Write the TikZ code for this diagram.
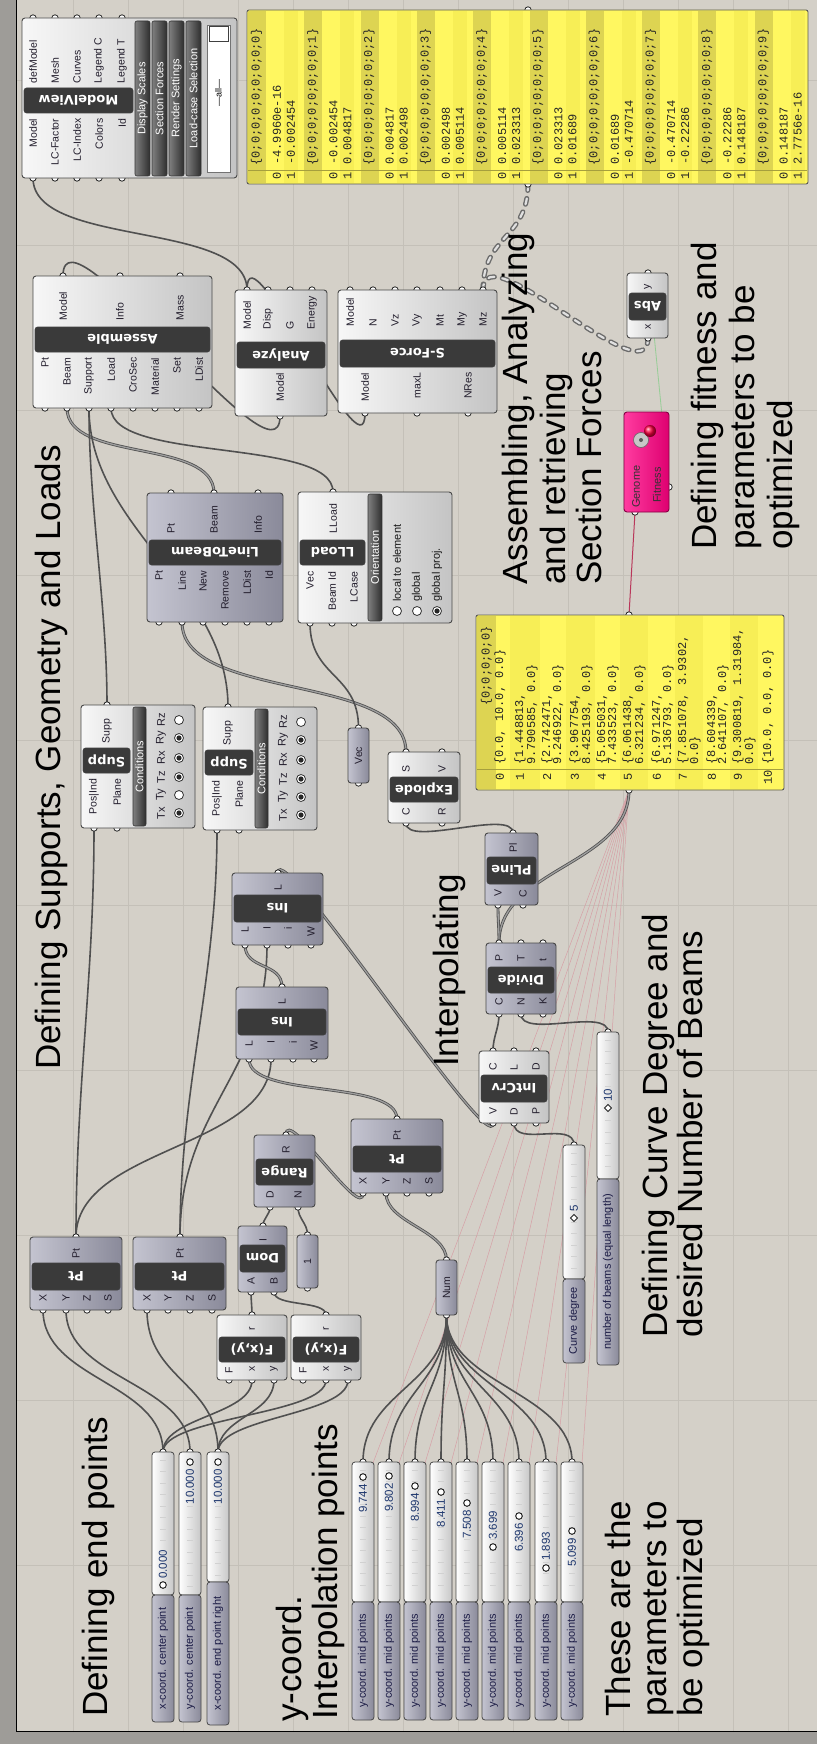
\documentclass[tikz,border=0pt]{standalone}
\usepackage{fontspec}
\setmainfont{Liberation Sans}
\newfontfamily\monofont{Liberation Mono}
\newfontfamily\barfont{DejaVu Sans}
\pgfdeclarelayer{canvas}
\pgfdeclarelayer{wires}
\pgfdeclarelayer{grips}
\pgfsetlayers{canvas,wires,grips,main}

\definecolor{canvasbg}{RGB}{212,208,200}
\definecolor{gridln}{RGB}{196,192,184}
\definecolor{rimc}{RGB}{158,156,152}
\definecolor{wirec}{RGB}{80,80,80}
\definecolor{boxhi}{RGB}{247,247,247}
\definecolor{boxlo}{RGB}{196,196,196}
\definecolor{bluehi}{RGB}{196,196,208}
\definecolor{bluelo}{RGB}{138,138,154}
\definecolor{barc}{RGB}{58,58,58}
\definecolor{edgec}{RGB}{72,72,72}
\definecolor{labelc}{RGB}{35,30,45}
\definecolor{panely}{RGB}{255,247,96}
\definecolor{panelalt}{RGB}{247,238,86}
\definecolor{panelh}{RGB}{221,212,82}
\definecolor{galhi}{RGB}{255,60,160}
\definecolor{gallo}{RGB}{222,0,112}
\definecolor{valc}{RGB}{30,55,110}
\definecolor{slabel}{RGB}{28,28,70}
\definecolor{genomec}{RGB}{214,160,166}
\definecolor{gallink}{RGB}{185,55,90}
\definecolor{fitc}{RGB}{150,205,150}

\tikzset{
  lightbox/.style={draw=edgec, line width=0.9pt, rounded corners=3pt, left color=boxhi, right color=boxlo},
  bluebox/.style={draw=edgec, line width=0.9pt, rounded corners=3pt, left color=bluehi, right color=bluelo},
  namebar/.style={draw=black!75, line width=0.6pt, rounded corners=2.5pt, fill=barc},
  nametext/.style={text=white, font=\barfont\bfseries\fontsize{13}{13}\selectfont, rotate=180, inner sep=0pt},
  plabel/.style={rotate=90, text=labelc, font=\fontsize{10.5}{11}\selectfont, inner sep=0.5pt},
  grip/.style={fill=white, draw=black!85, line width=0.8pt},
  wire/.style={draw=wirec, line width=1.6pt},
  listwire/.style={draw=wirec, line width=0.8pt, double=black!38, double distance=1.3pt},
  treeout/.style={draw=black!58, line width=5pt, line cap=round, dash pattern=on 6pt off 8pt},
  treein/.style={draw=black!12, line width=2.2pt, line cap=round, dash pattern=on 6pt off 8pt},
  btn/.style={draw=black!80, line width=0.6pt, rounded corners=2pt, left color=black!50, right color=black!82},
  btntext/.style={rotate=90, text=white, font=\fontsize{11}{11}\selectfont, inner sep=0pt},
  monot/.style={rotate=90, text=black!85, font=\monofont\fontsize{12}{12}\selectfont, inner sep=0pt},
  sliderbody/.style={draw=edgec, line width=0.8pt, rounded corners=3pt, left color=white, right color=black!22},
  sliderlabel/.style={draw=edgec, line width=0.8pt, rounded corners=3pt, left color=bluehi, right color=bluelo},
  sltick/.style={draw=black!18, line width=0.5pt},
  sltext/.style={rotate=90, text=slabel, font=\fontsize{11}{11}\selectfont, inner sep=0pt},
  valtext/.style={rotate=90, text=valc, font=\fontsize{11.5}{11.5}\selectfont, inner sep=0pt},
  bigtitle/.style={rotate=90, anchor=base west, text=black, font=\fontsize{35}{35}\selectfont, inner sep=0pt},
  optext/.style={rotate=90, anchor=west, text=black!90, font=\fontsize{11}{11}\selectfont, inner sep=0pt},
}

% component body, name bar, grips with labels
\newcommand{\ghbox}[5]{\draw[#1] (#2,#3) rectangle (#4,#5);}
\newcommand{\ghbar}[5]{\draw[namebar] (#1,#2) rectangle (#3,#4);
  \path (#1,#2) -- (#3,#4) node[midway,nametext] {#5};}
\newcommand{\ghbtn}[5]{\draw[btn] (#1,#2) rectangle (#3,#4);
  \path (#1,#2) -- (#3,#4) node[midway,btntext] {#5};}
\newcommand{\ghook}[3]{\coordinate (#1) at (#2,#3);
  \begin{pgfonlayer}{grips}\draw[grip] (#2,#3) circle[radius=3.2];\end{pgfonlayer}}
\newcommand{\ghin}[5]{\ghook{#1}{#2}{#3}\node[plabel,anchor=east] (#1-t) at (#2,#4) {#5};}
\newcommand{\ghout}[5]{\ghook{#1}{#2}{#3}\node[plabel,anchor=west] (#1-t) at (#2,#4) {#5};}
% wires leave an output upwards and enter an input from below
\newcommand{\ghwire}[4][wire]{\draw[#1] (#2) .. controls +(0,-#4) and +(0,#4) .. (#3);}
\newcommand{\ghtree}[3]{\draw[treeout] (#1) .. controls +(0,-#3) and +(0,#3) .. (#2);
  \draw[treein] (#1) .. controls +(0,-#3) and +(0,#3) .. (#2);}
\newcommand{\ghcheck}[3]{\draw[fill=white, draw=black!80, line width=0.8pt] (#1,#2) circle[radius=4.5];
  \ifnum#3=1 \fill[black!85] (#1,#2) circle[radius=2.6];\fi}
% number slider: name, left x, top, split, bottom, label
\newcommand{\ghslider}[6]{%
  \draw[sliderbody] (#2,#3) rectangle ({#2+22},#4);
  \pgfmathtruncatemacro\ntick{(#4-#3-14)/11.5}
  \foreach \k in {0,...,\ntick}{\draw[sltick] ({#2+8},{#3+8+\k*11.5}) -- ++(6,0);}
  \draw[sliderlabel] (#2,#4) rectangle ({#2+22},#5);
  \node[sltext] (#1-t) at ({#2+11},{(#4+#5)/2}) {#6};
  \ghook{#1}{{#2+11}}{#3}
  \coordinate (#1-c) at ({#2+21},{#3+1});}
% slider value: left x, marker y, text, anchor, text y, marker kind
\newcommand{\ghval}[6]{%
  \node[valtext, anchor=#4] at ({#1+11},#5) {#3};
  \ifnum#6=0 \draw[fill=white, draw=black!85, line width=1pt] ({#1+11},#2) circle[radius=3.3];
  \else \draw[fill=white, draw=black!85, line width=0.9pt] ({#1+11},{#2-3.5}) -- ({#1+14.5},#2) -- ({#1+11},{#2+3.5}) -- ({#1+7.5},#2) -- cycle;\fi}
% one branch of the upper panel: index, path, two values
\newcommand{\ghgroup}[4]{%
  \pgfmathsetmacro\gx{247+56.3*#1}
  \fill[panelh] (\gx+1,11) rectangle ({\gx+19},183);
  \fill[panelalt] ({\gx+37},11) rectangle ({\gx+51},183);
  \node[monot] at ({\gx+9.5},97) {#2};
  \node[monot] at ({\gx+30},176) {0};
  \node[monot, anchor=west] at ({\gx+30},165) {#3};
  \node[monot] at ({\gx+44},176) {1};
  \node[monot, anchor=west] at ({\gx+44},165) {#4};}

\begin{document}
\begin{tikzpicture}[x=1pt,y=-1pt]
\useasboundingbox (0,0) rectangle (817,1744);

% ---------- canvas ----------
\begin{pgfonlayer}{canvas}
  \fill[canvasbg] (0,0) rectangle (817,1744);
  \foreach \gxv in {73,128,...,790} {\draw[gridln, line width=0.8pt] (\gxv,0) -- (\gxv,1731);}
  \foreach \gyv in {80,245,...,1570} {\draw[gridln, line width=0.8pt] (16,\gyv) -- (817,\gyv);}
  \fill[rimc] (0,0) rectangle (16,1744);
  \fill[rimc] (0,1731) rectangle (817,1744);
  \draw[black, line width=1pt] (16,0) -- (16,1731) -- (817,1731);
\end{pgfonlayer}

% ---------- titles ----------
\node[bigtitle] (t-supports) at (60,1070) {Defining Supports, Geometry and Loads};
\node[bigtitle] (t-end) at (107,1717) {Defining end points};
\node[bigtitle] (t-y1) at (301,1722) {y-coord.};
\node[bigtitle] (t-y2) at (337,1720) {Interpolation points};
\node[bigtitle] (t-par1) at (630,1717) {These are the};
\node[bigtitle] (t-par2) at (666,1717) {parameters to};
\node[bigtitle] (t-par3) at (702,1717) {be optimized};
\node[bigtitle] (t-interp) at (458,1067) {Interpolating};
\node[bigtitle] (t-curve1) at (667,1338) {Defining Curve Degree and};
\node[bigtitle] (t-curve2) at (702,1338) {desired Number of Beams};
\node[bigtitle] (t-asm1) at (527,585) {Assembling, Analyzing};
\node[bigtitle] (t-asm2) at (565,585) {and retrieving};
\node[bigtitle] (t-asm3) at (601,585) {Section Forces};
\node[bigtitle] (t-fit1) at (716,550) {Defining fitness and};
\node[bigtitle] (t-fit2) at (754,550) {parameters to be};
\node[bigtitle] (t-fit3) at (792,550) {optimized};

% ---------- ModelView ----------
\ghbox{lightbox}{22}{18}{237}{178}
\ghbar{24}{88}{133}{113}{ModelView}
\ghout{mv-o1}{33}{18}{84}{defModel}
\ghout{mv-o2}{55}{18}{84}{Mesh}
\ghout{mv-o3}{77}{18}{84}{Curves}
\ghout{mv-o4}{99}{18}{84}{Legend C}
\ghout{mv-o5}{122}{18}{84}{Legend T}
\ghin{mv-i1}{33}{178}{118}{Model}
\ghin{mv-i2}{55}{178}{118}{LC-Factor}
\ghin{mv-i3}{77}{178}{118}{LC-Index}
\ghin{mv-i4}{99}{178}{118}{Colors}
\ghin{mv-i5}{122}{178}{118}{Id}
\ghbtn{135}{21}{150}{176}{Display Scales}
\ghbtn{152}{21}{167}{176}{Section Forces}
\ghbtn{169}{21}{184}{176}{Render Settings}
\ghbtn{186}{21}{201}{176}{Load-case Selection}
\draw[fill=white, draw=black!55, line width=0.7pt] (207,25) rectangle (230,172);
\draw[fill=white, draw=black!75, line width=1pt] (209,27) rectangle (228,42);
\node[rotate=90, font=\fontsize{9}{9}\selectfont, inner sep=0pt] (mv-list) at (218.5,93) {---all---};

% ---------- section force panel ----------
\draw[fill=panely, draw=black!65, line width=0.9pt, rounded corners=2pt] (247,10) rectangle (808,184);
\ghgroup{0}{\{0;0;0;0;0;0;0;0;0\}}{-4.9960e-16}{-0.002454}
\ghgroup{1}{\{0;0;0;0;0;0;0;0;1\}}{-0.002454}{0.004817}
\ghgroup{2}{\{0;0;0;0;0;0;0;0;2\}}{0.004817}{0.002498}
\ghgroup{3}{\{0;0;0;0;0;0;0;0;3\}}{0.002498}{0.005114}
\ghgroup{4}{\{0;0;0;0;0;0;0;0;4\}}{0.005114}{0.023313}
\ghgroup{5}{\{0;0;0;0;0;0;0;0;5\}}{0.023313}{0.01689}
\ghgroup{6}{\{0;0;0;0;0;0;0;0;6\}}{0.01689}{-0.470714}
\ghgroup{7}{\{0;0;0;0;0;0;0;0;7\}}{-0.470714}{-0.22286}
\ghgroup{8}{\{0;0;0;0;0;0;0;0;8\}}{-0.22286}{0.148187}
\ghgroup{9}{\{0;0;0;0;0;0;0;0;9\}}{0.148187}{2.7756e-16}
\draw[panelh!75!black, line width=0.4pt] (248,170) -- (807,170);
\ghook{p1-o}{528}{10}
\ghook{p1-i}{528}{184}

% ---------- Assemble / Analyze / S-Force ----------
\ghbox{lightbox}{33}{276}{212}{408}
\ghbar{35}{327}{210}{352}{Assemble}
\ghout{as-o-model}{63}{276}{321}{Model}
\ghout{as-o-info}{120}{276}{321}{Info}
\ghout{as-o-mass}{180}{276}{321}{Mass}
\ghin{as-i-pt}{45}{408}{357}{Pt}
\ghin{as-i-beam}{67}{408}{357}{Beam}
\ghin{as-i-supp}{89}{408}{357}{Support}
\ghin{as-i-load}{111}{408}{357}{Load}
\ghin{as-i-crosec}{133}{408}{357}{CroSec}
\ghin{as-i-mat}{155}{408}{357}{Material}
\ghin{as-i-set}{177}{408}{357}{Set}
\ghin{as-i-ldist}{199}{408}{357}{LDist}

\ghbox{lightbox}{235}{290}{327}{416}
\ghbar{237}{342}{325}{368}{Analyze}
\ghout{an-o-model}{247}{290}{330}{Model}
\ghout{an-o-disp}{268}{290}{330}{Disp}
\ghout{an-o-g}{290}{290}{330}{G}
\ghout{an-o-energy}{312}{290}{330}{Energy}
\ghin{an-i-model}{280}{416}{372}{Model}

\ghbox{lightbox}{338}{290}{497}{413}
\ghbar{340}{340}{495}{367}{S-Force}
\ghout{sf-o-model}{350}{290}{327}{Model}
\ghout{sf-o-n}{373}{290}{327}{N}
\ghout{sf-o-vz}{395}{290}{327}{Vz}
\ghout{sf-o-vy}{417}{290}{327}{Vy}
\ghout{sf-o-mt}{440}{290}{327}{Mt}
\ghout{sf-o-my}{462}{290}{327}{My}
\ghout{sf-o-mz}{483}{290}{327}{Mz}
\ghin{sf-i-model}{365}{413}{372}{Model}
\ghin{sf-i-maxl}{417}{413}{372}{maxL}
\ghin{sf-i-nres}{468}{413}{372}{NRes}

% ---------- Abs and Galapagos ----------
\ghbox{lightbox}{627}{273}{668}{338}
\ghbar{629}{293}{666}{320}{Abs}
\ghout{abs-o}{648}{273}{290}{y}
\ghin{abs-i}{648}{338}{324}{x}

\draw[left color=galhi, right color=gallo, draw=gallo!60!black, line width=0.9pt, rounded corners=3pt] (624,412) rectangle (669,512);
\draw[fill=black!22, draw=black!60, line width=0.6pt] (641,440) circle[radius=7.5];
\fill[black!65] (641,440) circle[radius=2];
\shade[ball color=red!75!magenta] (650,431) circle[radius=6];
\node[optext, text=black!80] (gal-g) at (636,508) {Genome};
\node[optext, text=black!80] (gal-f) at (657,503) {Fitness};
\ghook{gal-genome}{635}{512}
\ghook{gal-fit}{669}{487}

% ---------- LineToBeam ----------
\ghbox{bluebox}{147}{493}{283}{622}
\ghbar{149}{540}{281}{565}{LineToBeam}
\ghout{lb-o-pt}{171}{493}{534}{Pt}
\ghout{lb-o-beam}{214}{493}{534}{Beam}
\ghout{lb-o-info}{258}{493}{534}{Info}
\ghin{lb-i-pt}{159}{622}{570}{Pt}
\ghin{lb-i-line}{182}{622}{570}{Line}
\ghin{lb-i-new}{203}{622}{570}{New}
\ghin{lb-i-remove}{225}{622}{570}{Remove}
\ghin{lb-i-ldist}{247}{622}{570}{LDist}
\ghin{lb-i-id}{269}{622}{570}{Id}

% ---------- LLoad ----------
\ghbox{lightbox}{298}{492}{452}{623}
\ghbar{300}{540}{365}{565}{LLoad}
\ghout{ll-o}{333}{492}{534}{LLoad}
\ghin{ll-i-vec}{310}{623}{571}{Vec}
\ghin{ll-i-beam}{332}{623}{571}{Beam Id}
\ghin{ll-i-lcase}{354}{623}{571}{LCase}
\ghbtn{368}{494}{382}{621}{Orientation}
\ghcheck{397}{611}{0}
\ghcheck{417}{611}{0}
\ghcheck{437}{611}{1}
\node[optext] (ll-r1) at (397,602) {local to element};
\node[optext] (ll-r2) at (417,602) {global};
\node[optext] (ll-r3) at (437,602) {global proj.};

% ---------- supports ----------
\ghbox{lightbox}{81}{705}{195}{828}
\ghbar{83}{748}{130}{773}{Supp}
\ghout{sp1-o}{107}{705}{744}{Supp}
\ghin{sp1-i-pos}{94}{828}{778}{Pos|Ind}
\ghin{sp1-i-plane}{117}{828}{778}{Plane}
\ghbtn{133}{707}{146}{826}{Conditions}
\foreach \lab/\yy/\st in {Tx/813/1, Ty/795/0, Tz/777/1, Rx/758/1, Ry/738/1, Rz/720/0}{
  \node[plabel, font=\fontsize{11}{11}\selectfont] at (161,\yy) {\lab};
  \ghcheck{179}{\yy}{\st}}

\ghbox{lightbox}{203}{707}{317}{830}
\ghbar{205}{750}{253}{775}{Supp}
\ghout{sp2-o}{228}{707}{746}{Supp}
\ghin{sp2-i-pos}{217}{830}{780}{Pos|Ind}
\ghin{sp2-i-plane}{239}{830}{780}{Plane}
\ghbtn{255}{709}{268}{828}{Conditions}
\foreach \lab/\yy/\st in {Tx/815/1, Ty/797/1, Tz/779/1, Rx/760/1, Ry/740/1, Rz/722/0}{
  \node[plabel, font=\fontsize{11}{11}\selectfont] at (283,\yy) {\lab};
  \ghcheck{301}{\yy}{\st}}

% ---------- Vec, Explode ----------
\ghbox{bluebox}{348}{728}{369}{783}
\node[plabel] (vec) at (358.5,755.5) {Vec};
\ghook{vec-o}{358.5}{728}
\ghook{vec-i}{358.5}{783}

\ghbox{lightbox}{388}{752}{460}{823}
\ghbar{390}{777}{458}{802}{Explode}
\ghout{ex-o-s}{406}{752}{773}{S}
\ghout{ex-o-v}{442}{752}{773}{V}
\ghin{ex-i-c}{406}{823}{807}{C}
\ghin{ex-i-r}{442}{823}{807}{R}

% ---------- point panel ----------
\draw[fill=panely, draw=black!65, line width=0.9pt, rounded corners=2pt] (476,615) rectangle (784,790);
\fill[panelh] (477,616) rectangle (496,789);
\foreach \a/\b in {510/540, 566/595, 620/648, 675/703, 730/758} {\fill[panelalt] (\a,616) rectangle (\b,789);}
\draw[panelh!75!black, line width=0.4pt] (477,769) -- (783,769);
\node[monot] (p2-h) at (486.5,666) {\{0;0;0;0;0\}};
\foreach \px/\ix in {500/0, 520/1, 547/2, 575/3, 602/4, 628/5, 657/6, 683/7, 712/8, 738/9, 768/10}
  {\node[monot] at (\px,777) {\ix};}
\node[monot, anchor=west] at (500,765) {\{0.0, 10.0, 0.0\}};
\node[monot, anchor=west] at (520,765) {\{1.448813,};
\node[monot, anchor=west] at (532,765) {9.790585, 0.0\}};
\node[monot, anchor=west] at (547,765) {\{2.742471,};
\node[monot, anchor=west] at (558,765) {9.246922, 0.0\}};
\node[monot, anchor=west] at (575,765) {\{3.967754,};
\node[monot, anchor=west] at (587,765) {8.425193, 0.0\}};
\node[monot, anchor=west] at (602,765) {\{5.065031,};
\node[monot, anchor=west] at (613,765) {7.433523, 0.0\}};
\node[monot, anchor=west] at (628,765) {\{6.061438,};
\node[monot, anchor=west] at (640,765) {6.321234, 0.0\}};
\node[monot, anchor=west] at (657,765) {\{6.971247,};
\node[monot, anchor=west] at (668,765) {5.136793, 0.0\}};
\node[monot, anchor=west] at (683,765) {\{7.851078, 3.9302,};
\node[monot, anchor=west] at (695,765) {0.0\}};
\node[monot, anchor=west] at (712,765) {\{8.604339,};
\node[monot, anchor=west] at (723,765) {2.641107, 0.0\}};
\node[monot, anchor=west] at (738,765) {\{9.300819, 1.31984,};
\node[monot, anchor=west] at (750,765) {0.0\}};
\node[monot, anchor=west] at (768,765) {\{10.0, 0.0, 0.0\}};
\ghook{p2-o}{629}{615}
\ghook{p2-i}{629}{790}

% ---------- PLine, Divide, IntCrv ----------
\ghbox{bluebox}{485}{833}{538}{905}
\ghbar{487}{857}{536}{884}{PLine}
\ghout{pl-o}{513}{833}{853}{Pl}
\ghin{pl-i-v}{498}{905}{889}{V}
\ghin{pl-i-c}{523}{905}{889}{C}

\ghbox{bluebox}{486}{943}{556}{1014}
\ghbar{488}{967}{554}{993}{Divide}
\ghout{dv-o-p}{499}{943}{962}{P}
\ghout{dv-o-t}{521}{943}{962}{T}
\ghout{dv-o-tt}{543}{943}{962}{t}
\ghin{dv-i-c}{499}{1014}{997}{C}
\ghin{dv-i-n}{521}{1014}{997}{N}
\ghin{dv-i-k}{543}{1014}{997}{K}

\ghbox{lightbox}{479}{1051}{549}{1123}
\ghbar{481}{1075}{547}{1102}{IntCrv}
\ghout{ic-o-c}{493}{1051}{1071}{C}
\ghout{ic-o-l}{514}{1051}{1071}{L}
\ghout{ic-o-d}{536}{1051}{1071}{D}
\ghin{ic-i-v}{493}{1123}{1107}{V}
\ghin{ic-i-d}{514}{1123}{1107}{D}
\ghin{ic-i-p}{536}{1123}{1107}{P}

% ---------- Ins, Range, Dom, points ----------
\ghbox{bluebox}{232}{873}{323}{945}
\ghbar{234}{895}{321}{922}{Ins}
\ghout{insu-o}{278}{873}{891}{L}
\ghin{insu-i-l}{245}{945}{926}{L}
\ghin{insu-i-i}{267}{945}{926}{I}
\ghin{insu-i-ii}{288}{945}{926}{i}
\ghin{insu-i-w}{311}{945}{926}{W}

\ghbox{bluebox}{236}{987}{328}{1059}
\ghbar{238}{1009}{326}{1035}{Ins}
\ghout{insl-o}{282}{987}{1005}{L}
\ghin{insl-i-l}{249}{1059}{1040}{L}
\ghin{insl-i-i}{271}{1059}{1040}{I}
\ghin{insl-i-ii}{293}{1059}{1040}{i}
\ghin{insl-i-w}{314}{1059}{1040}{W}

\ghbox{bluebox}{254}{1135}{315}{1207}
\ghbar{256}{1159}{313}{1185}{Range}
\ghout{rg-o}{286}{1135}{1154}{R}
\ghin{rg-i-d}{270}{1207}{1190}{D}
\ghin{rg-i-n}{298}{1207}{1190}{N}

\ghbox{bluebox}{238}{1226}{287}{1292}
\ghbar{240}{1245}{285}{1272}{Dom}
\ghout{dm-o}{263}{1226}{1242}{I}
\ghin{dm-i-a}{251}{1292}{1277}{A}
\ghin{dm-i-b}{274}{1292}{1277}{B}

\ghbox{bluebox}{297}{1235}{318}{1288}
\node[plabel] (one) at (307.5,1261.5) {1};
\ghook{one-o}{307.5}{1235}
\ghook{one-i}{307.5}{1288}

\ghbox{bluebox}{30}{1237}{122}{1310}
\ghbar{32}{1263}{120}{1290}{Pt}
\ghout{pt1-o}{76}{1237}{1259}{Pt}
\ghin{pt1-i-x}{43}{1310}{1294}{X}
\ghin{pt1-i-y}{66}{1310}{1294}{Y}
\ghin{pt1-i-z}{87}{1310}{1294}{Z}
\ghin{pt1-i-s}{108}{1310}{1294}{S}

\ghbox{bluebox}{133}{1237}{226}{1310}
\ghbar{135}{1263}{224}{1290}{Pt}
\ghout{pt2-o}{180}{1237}{1259}{Pt}
\ghin{pt2-i-x}{147}{1310}{1294}{X}
\ghin{pt2-i-y}{168}{1310}{1294}{Y}
\ghin{pt2-i-z}{190}{1310}{1294}{Z}
\ghin{pt2-i-s}{212}{1310}{1294}{S}

\ghbox{bluebox}{351}{1119}{443}{1193}
\ghbar{353}{1146}{441}{1172}{Pt}
\ghout{pt3-o}{397}{1119}{1141}{Pt}
\ghin{pt3-i-x}{363}{1193}{1177}{X}
\ghin{pt3-i-y}{386}{1193}{1177}{Y}
\ghin{pt3-i-z}{407}{1193}{1177}{Z}
\ghin{pt3-i-s}{429}{1193}{1177}{S}

\ghbox{lightbox}{217}{1315}{287}{1380}
\ghbar{219}{1337}{285}{1362}{F(x,y)}
\ghout{f1-o}{252}{1315}{1331}{r}
\ghin{f1-i-f}{229}{1380}{1366}{F}
\ghin{f1-i-x}{252}{1380}{1366}{x}
\ghin{f1-i-y}{274}{1380}{1366}{y}

\ghbox{lightbox}{291}{1315}{361}{1380}
\ghbar{293}{1337}{359}{1362}{F(x,y)}
\ghout{f2-o}{326}{1315}{1331}{r}
\ghin{f2-i-f}{303}{1380}{1366}{F}
\ghin{f2-i-x}{326}{1380}{1366}{x}
\ghin{f2-i-y}{348}{1380}{1366}{y}

\ghbox{bluebox}{436}{1260}{457}{1315}
\node[plabel] (num) at (446.5,1287.5) {Num};
\ghook{num-o}{446.5}{1260}
\ghook{num-i}{446.5}{1315}

% ---------- sliders ----------
\ghslider{cd}{563}{1145}{1279}{1363}{Curve degree}
\ghval{563}{1218}{5}{west}{1212}{1}
\ghslider{nb}{597}{1032}{1179}{1365}{number of beams (equal length)}
\ghval{597}{1108}{10}{west}{1102}{1}

\ghslider{xc}{152}{1452}{1595}{1722}{x-coord. center point}
\ghval{152}{1585}{0.000}{west}{1579}{0}
\ghslider{yc}{179}{1452}{1595}{1722}{y-coord. center point}
\ghval{179}{1462}{10.000}{east}{1469}{0}
\ghslider{xr}{207}{1452}{1582}{1725}{x-coord. end point right}
\ghval{207}{1462}{10.000}{east}{1469}{0}

\ghslider{ys1}{352}{1462}{1602}{1720}{y-coord. mid points}
\ghval{352}{1477}{9.744}{east}{1484}{0}
\ghslider{ys2}{378}{1462}{1602}{1720}{y-coord. mid points}
\ghval{378}{1476}{9.802}{east}{1483}{0}
\ghslider{ys3}{404}{1462}{1602}{1720}{y-coord. mid points}
\ghval{404}{1486}{8.994}{east}{1493}{0}
\ghslider{ys4}{430}{1462}{1602}{1720}{y-coord. mid points}
\ghval{430}{1492}{8.411}{east}{1499}{0}
\ghslider{ys5}{456}{1462}{1602}{1720}{y-coord. mid points}
\ghval{456}{1503}{7.508}{east}{1510}{0}
\ghslider{ys6}{482}{1462}{1602}{1720}{y-coord. mid points}
\ghval{482}{1547}{3.699}{west}{1540}{0}
\ghslider{ys7}{508}{1462}{1602}{1720}{y-coord. mid points}
\ghval{508}{1516}{6.396}{east}{1523}{0}
\ghslider{ys8}{535}{1462}{1602}{1720}{y-coord. mid points}
\ghval{535}{1568}{1.893}{west}{1561}{0}
\ghslider{ys9}{561}{1462}{1602}{1720}{y-coord. mid points}
\ghval{561}{1531}{5.099}{east}{1538}{0}

% ---------- wires ----------
\begin{pgfonlayer}{wires}
  \foreach \s in {ys1,ys2,ys3,ys4,ys5,ys6,ys7,ys8,ys9}
    {\draw[genomec, line width=0.5pt] (p2-i) -- (\s-c);}
  \draw[gallink, line width=1pt] (gal-genome) -- (p2-o);
  \draw[fitc, line width=0.8pt] (abs-o) -- (gal-fit);
  \ghwire{an-o-model}{mv-i1}{70}
  \ghwire{as-o-model}{an-i-model}{80}
  \ghwire{an-o-model}{sf-i-model}{70}
  \ghtree{sf-o-mz}{p1-i}{55}
  \ghtree{sf-o-mz}{abs-i}{60}
  \ghwire[listwire]{dv-o-p}{p2-i}{75}
  \ghwire[listwire]{dv-o-p}{pl-i-v}{20}
  \ghwire{pl-o}{ex-i-c}{25}
  \ghwire[listwire]{ex-o-s}{lb-i-line}{80}
  \ghwire[listwire]{lb-o-beam}{as-i-beam}{55}
  \ghwire{ll-o}{as-i-load}{55}
  \ghwire{sp1-o}{as-i-supp}{100}
  \ghwire{sp2-o}{as-i-supp}{120}
  \ghwire{vec-o}{ll-i-vec}{55}
  \ghwire{pt1-o}{sp1-i-pos}{150}
  \ghwire{pt2-o}{sp2-i-pos}{150}
  \ghwire{pt1-o}{insl-i-i}{90}
  \ghwire{pt2-o}{insu-i-i}{130}
  \ghwire[listwire]{pt3-o}{insl-i-l}{40}
  \ghwire[listwire]{insl-o}{insu-i-l}{25}
  \ghwire[listwire]{insu-o}{ic-i-v}{40}
  \ghwire{ic-o-c}{dv-i-c}{15}
  \ghwire{cd}{ic-i-d}{25}
  \ghwire{nb}{dv-i-n}{25}
  \ghwire[listwire]{rg-o}{pt3-i-x}{30}
  \ghwire[listwire]{num-o}{pt3-i-y}{30}
  \ghwire{dm-o}{rg-i-d}{8}
  \ghwire{one-o}{rg-i-n}{12}
  \ghwire{f1-o}{dm-i-a}{8}
  \ghwire{f2-o}{dm-i-b}{15}
  \ghwire{xc}{pt1-i-x}{70}
  \ghwire{yc}{pt1-i-y}{70}
  \ghwire{xr}{pt2-i-x}{70}
  \ghwire{xc}{f1-i-x}{35}
  \ghwire{xr}{f1-i-y}{35}
  \ghwire{xc}{f2-i-x}{35}
  \ghwire{xr}{f2-i-y}{35}
  \foreach \s in {ys1,ys2,ys3,ys4,ys5,ys6,ys7,ys8,ys9}
    {\ghwire{\s}{num-i}{70}}
\end{pgfonlayer}
\end{tikzpicture}
\end{document}
